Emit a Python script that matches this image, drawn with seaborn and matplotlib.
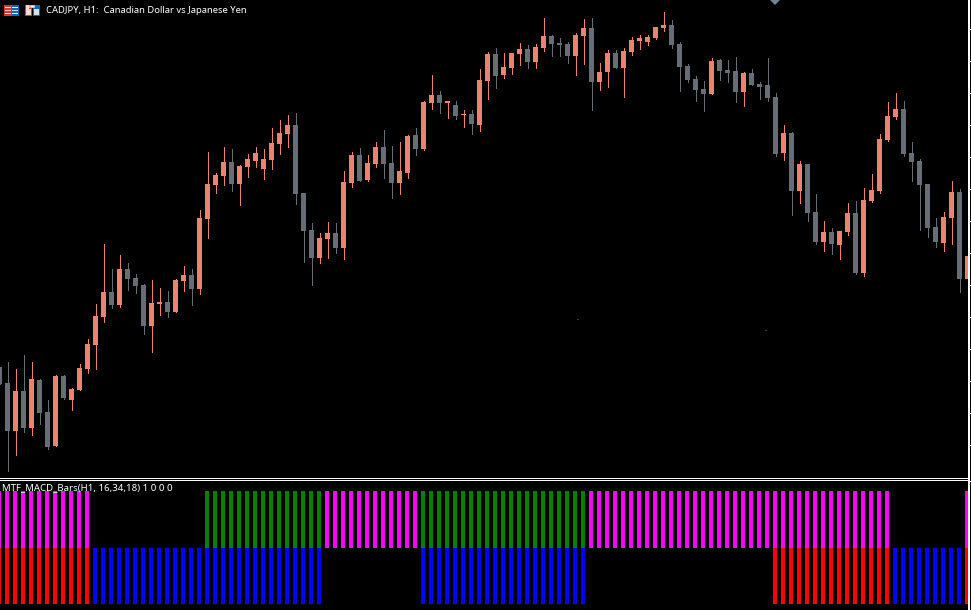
import numpy as np
import pandas as pd
import matplotlib
matplotlib.use("Agg")
import matplotlib.pyplot as plt
from matplotlib.patches import Rectangle, Polygon
import seaborn as sns

SYMBOL_TITLE = "CADJPY, H1:  Canadian Dollar vs Japanese Yen"
INDICATOR_TITLE = "MTF_MACD_Bars(H1, 16,34,18) 1 0 0 0"

first_bar = -1
high = [101.33,101.38,101.31,101.45,101.38,101.21,101.00,101.25,101.25,101.12,101.36,101.61,101.96,102.56,102.31,102.45,102.37,102.26,102.16,102.20,102.12,102.09,102.21,102.34,102.31,102.90,103.48,103.27,103.53,103.51,103.35,103.46,103.53,103.51,103.72,103.80,103.85,103.87,103.07,102.77,102.67,102.78,102.77,103.29,103.48,103.52,103.45,103.58,103.70,103.54,103.58,103.65,103.72,103.99,104.25,104.09,103.99,103.99,103.90,103.90,104.31,104.48,104.52,104.47,104.47,104.57,104.55,104.56,104.82,104.65,104.62,104.58,104.67,104.81,104.82,104.37,104.50,104.50,104.52,104.63,104.65,104.65,104.73,104.88,104.80,104.58,104.36,104.24,104.19,104.42,104.41,104.40,104.43,104.28,104.31,104.18,104.42,104.07,103.75,103.68,103.39,103.36,103.06,102.79,102.72,102.69,102.97,102.99,103.12,103.26,103.66,103.98,104.07,103.99,103.58,103.41,103.16,102.82,102.88,103.19,103.11,102.72]
open_ = [101.33,101.17,100.69,101.09,100.72,101.20,100.88,100.54,101.24,101.00,101.10,101.31,101.55,101.83,102.08,101.95,102.31,102.22,102.15,101.74,101.96,101.98,101.88,102.19,102.25,102.11,102.81,103.15,103.24,103.38,103.16,103.33,103.39,103.31,103.40,103.56,103.66,103.75,103.07,102.70,102.42,102.61,102.67,102.52,103.17,103.45,103.20,103.36,103.53,103.37,103.17,103.27,103.65,103.51,103.97,104.05,103.97,103.95,103.85,103.86,103.75,104.19,104.46,104.25,104.32,104.46,104.51,104.38,104.52,104.64,104.57,104.56,104.44,104.64,104.72,104.18,104.28,104.47,104.32,104.48,104.59,104.58,104.62,104.72,104.75,104.56,104.34,104.21,104.11,104.06,104.40,104.30,104.29,104.08,104.27,104.16,104.15,104.03,103.47,103.67,103.09,103.36,102.88,102.58,102.68,102.55,102.68,102.87,102.27,102.99,103.09,103.60,103.83,103.91,103.47,103.39,103.16,102.73,102.57,102.82,103.08,102.21]
close = [101.16,100.69,101.09,100.72,101.21,100.87,100.53,101.24,101.02,101.11,101.32,101.56,101.84,102.08,101.95,102.31,102.21,102.14,101.74,101.97,101.98,101.88,102.20,102.25,102.11,102.82,103.16,103.25,103.38,103.16,103.34,103.41,103.47,103.41,103.57,103.67,103.75,103.06,102.69,102.42,102.62,102.67,102.52,103.18,103.45,103.19,103.37,103.53,103.36,103.17,103.29,103.64,103.51,103.98,104.05,103.97,103.99,103.84,103.86,103.76,104.20,104.46,104.24,104.33,104.47,104.51,104.38,104.53,104.64,104.56,104.55,104.44,104.65,104.72,104.18,104.28,104.47,104.32,104.49,104.60,104.62,104.63,104.73,104.75,104.55,104.33,104.20,104.10,104.06,104.39,104.29,104.27,104.08,104.27,104.15,104.13,104.02,103.46,103.67,103.09,103.36,102.87,102.58,102.68,102.56,102.69,102.87,102.27,103.00,103.10,103.61,103.84,103.91,103.46,103.38,103.15,102.72,102.58,102.83,103.08,102.21,102.44]
low = [101.16,100.29,100.45,100.68,100.65,100.76,100.51,100.54,101.01,100.90,101.10,101.27,101.31,101.78,101.92,101.93,102.10,102.07,101.66,101.48,101.85,101.83,101.88,102.09,101.95,102.06,102.62,103.07,103.15,103.09,102.95,103.23,103.33,103.21,103.31,103.46,103.53,102.96,102.38,102.15,102.37,102.42,102.47,102.41,103.13,103.19,103.19,103.33,103.22,103.02,103.06,103.22,103.45,103.50,103.91,103.87,103.82,103.81,103.73,103.66,103.69,104.01,104.12,104.22,104.26,104.35,104.32,104.32,104.49,104.44,104.44,104.37,104.25,104.36,103.90,104.10,104.13,104.32,104.03,104.45,104.51,104.55,104.61,104.69,104.52,104.09,104.18,103.99,103.89,104.06,104.20,104.18,103.98,103.94,104.15,104.01,103.99,103.44,103.40,102.85,102.97,102.79,102.56,102.49,102.46,102.41,102.65,102.26,102.24,102.98,103.07,103.59,103.81,103.44,103.19,102.70,102.63,102.53,102.49,102.56,102.08,102.13]

# Indicator state of every bar, as (state, number of consecutive bars)
upper_runs = [("magenta", 12), ("none", 14), ("green", 15), ("magenta", 12),
              ("green", 21), ("magenta", 38), ("none", 9), ("magenta", 1)]
lower_runs = [("red", 12), ("blue", 29), ("none", 12), ("blue", 21),
              ("none", 23), ("red", 15), ("blue", 9), ("red", 1)]

price_ticks = [104.71, 104.39, 104.07, 103.75, 103.43, 103.11, 102.79, 102.47,
               102.15, 101.83, 101.51, 101.19, 100.87, 100.55]
indicator_ticks = [2.18]

UP = "#EF8172"
DOWN = "#676D75"
STATE_COLORS = {"magenta": "#FF00FF", "green": "#008000", "red": "#FF0000", "blue": "#0000FF"}
W, H = 971, 610

sns.set_theme(style="dark", rc={
    "figure.facecolor": "black", "axes.facecolor": "black", "savefig.facecolor": "black",
    "axes.edgecolor": "white", "text.color": "white", "xtick.color": "white", "ytick.color": "white",
})
plt.rcParams["font.family"] = ["Noto Sans", "DejaVu Sans"]

fig = plt.figure(figsize=(W / 100, H / 100), dpi=100)
ax = fig.add_axes([0, (H - 477.5) / H, 969 / W, 477.5 / H])
ax2 = fig.add_axes([0, 0, 969 / W, 130.5 / H])

candles = pd.DataFrame({"open": open_, "high": high, "low": low, "close": close})
candles["bar"] = np.arange(len(candles)) + first_bar
candles["up"] = candles["close"] > candles["open"]
candles["bottom"] = candles[["open", "close"]].min(axis=1)
candles["height"] = (candles["close"] - candles["open"]).abs()

for is_up, color in [(True, UP), (False, DOWN)]:
    sub = candles[candles["up"] == is_up].sort_values("bar")
    ax.vlines(sub["bar"], sub["low"], sub["high"], colors=color, linewidth=0.72,
              antialiased=False, zorder=1)
    sns.barplot(data=sub, x="bar", y="height", native_scale=True, width=5 / 8, color=color,
                saturation=1, errorbar=None, ax=ax, bottom=sub["bottom"].to_numpy(),
                linewidth=0, antialiased=False, zorder=2)

for runs, base in [(upper_runs, 1), (lower_runs, 0)]:
    states = np.repeat([r[0] for r in runs], [r[1] for r in runs])
    row = pd.DataFrame({"bar": np.arange(len(states)) + first_bar, "state": states, "v": 1.0})
    row = row[row["state"] != "none"]
    sns.barplot(data=row, x="bar", y="v", hue="state", palette=STATE_COLORS, dodge=False,
                native_scale=True, width=0.5, saturation=1, errorbar=None, legend=False,
                ax=ax2, bottom=base, linewidth=0, antialiased=False)

ax.set_xlim(-7.5 / 8, (969 - 7.5) / 8)
ax.set_ylim(105 - 4.775, 105)
ax2.set_xlim(-7 / 8, (969 - 7) / 8)
ax2.set_ylim(-6 / 56.5, 2 + 11.5 / 56.5)

for a, ticks in [(ax, price_ticks), (ax2, indicator_ticks)]:
    a.set_xlabel(""); a.set_ylabel("")
    a.set_xticks([])
    a.grid(False)
    a.set_yticks(ticks)
    a.yaxis.tick_right()
    a.tick_params(axis="y", length=1.5, width=0.72, labelright=False, pad=0)
    for name, sp in a.spines.items():
        sp.set_color("white")
        sp.set_linewidth(0.72)
    a.spines["left"].set_visible(False)
    a.spines["right"].set_linewidth(1.44)
ax.spines["top"].set_visible(False)
ax2.spines["bottom"].set_visible(False)


def px_rect(x, y, w, h, color):
    fig.add_artist(Rectangle((x / W, 1 - (y + h) / H), w / W, h / H, facecolor=color,
                             edgecolor="none", transform=fig.transFigure, antialiased=False))


# Toolbar-like icons in the chart's top-left corner
px_rect(4, 5, 8, 11, "#D8392B")
px_rect(12, 5, 7, 11, "#1166B0")
for yy in (7, 10, 13):
    px_rect(5, yy, 6, 1, "#FFFFFF" if yy != 10 else "#F7C4BC")
    px_rect(12, yy, 6, 1, "#FFFFFF" if yy != 10 else "#BBD8F0")
px_rect(25, 5, 7, 11, "#D8392B")
px_rect(26, 9, 5, 6, "#FBD9D2")
px_rect(26, 5, 3, 4, "#FBD9D2")
px_rect(33, 5, 7, 11, "#1166B0")
px_rect(34, 9, 5, 6, "#CFE4F5")
px_rect(29, 5, 6, 3, "#BBBBBB")
px_rect(31, 6, 3, 1, "#FFFFFF")

# Chart marker clipped at the top edge and two faint specks
fig.add_artist(Polygon([(770 / W, 1), (780 / W, 1), (775 / W, 1 - 5 / H)], closed=True,
                       facecolor="#6E8598", edgecolor="none", transform=fig.transFigure))
px_rect(577, 319, 2, 1, "#3A3A3A")
px_rect(765, 330, 2, 1, "#3A3A3A")

fig.text(46 / W, 1 - 10.5 / H, SYMBOL_TITLE, fontsize=6.82, color="white", va="center", ha="left")
fig.text(2 / W, 1 - 488 / H, INDICATOR_TITLE, fontsize=6.95, color="white", va="center", ha="left")

fig.savefig("out.png", dpi=100, facecolor="black")
